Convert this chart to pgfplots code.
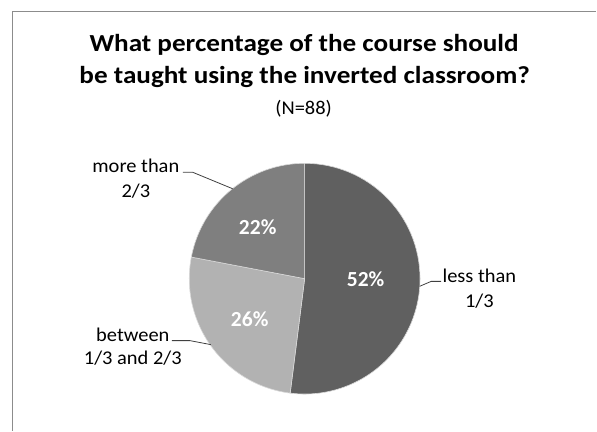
\documentclass[border=0pt]{standalone}
\usepackage{pgfplots}
\pgfplotsset{compat=1.18}
\usepackage{fontspec}
\setmainfont{Carlito}
\definecolor{sliceA}{HTML}{606060}
\definecolor{sliceB}{HTML}{B2B2B2}
\definecolor{sliceC}{HTML}{7F7F7F}
\definecolor{frame}{HTML}{8C8C8C}
\definecolor{leader}{HTML}{404040}
\begin{document}
\begin{tikzpicture}
% data: less than 1/3, between 1/3 and 2/3, more than 2/3 (percent)
\def\vA{52}\def\vB{26}\def\vC{22}
\pgfmathsetmacro\aA{90}
\pgfmathsetmacro\aB{\aA-3.6*\vA}
\pgfmathsetmacro\aC{\aB-3.6*\vB}
\pgfmathsetmacro\aD{\aC-3.6*\vC}
\def\R{115.5bp}
\begin{axis}[width=597bp,height=431bp,scale only axis,
  xmin=0,xmax=597,ymin=0,ymax=431,y dir=reverse,hide axis,clip=false]
\path (axis cs:0,0) rectangle (axis cs:597,431);
% frame
\draw[frame,line width=1.4bp] (axis cs:12.5,431) -- (axis cs:12.5,11.5) -- (axis cs:597,11.5);
% slices
\filldraw[fill=sliceA,draw=white!85!black,line width=0.6bp] (axis cs:305,279) -- +(\aA:\R) arc[start angle=\aA,end angle=\aB,radius=\R] -- cycle;
\filldraw[fill=sliceB,draw=white!85!black,line width=0.6bp] (axis cs:305,279) -- +(\aB:\R) arc[start angle=\aB,end angle=\aC,radius=\R] -- cycle;
\filldraw[fill=sliceC,draw=white!85!black,line width=0.6bp] (axis cs:305,279) -- +(\aC:\R) arc[start angle=\aC,end angle=\aD,radius=\R] -- cycle;
% percentage labels
\tikzset{pct/.style={text=white,font=\bfseries\fontsize{21.5bp}{21.5bp}\selectfont,anchor=base,inner sep=0pt},
  cat/.style={font=\fontsize{19.5bp}{19.5bp}\selectfont,anchor=base,xscale=1.05,inner sep=0pt}}
\node[pct] at (axis cs:366,286.7) {52\%};
\node[pct] at (axis cs:250,327) {26\%};
\node[pct] at (axis cs:258,235) {22\%};
% category labels
\node[cat] at (axis cs:480,283) {less than};
\node[cat] at (axis cs:480,308) {1/3};
\node[cat] at (axis cs:133,342) {between};
\node[cat] at (axis cs:133,365) {1/3 and 2/3};
\node[cat] at (axis cs:136,173) {more than};
\node[cat] at (axis cs:136,198) {2/3};
% leader lines
\draw[leader,line width=0.8bp] (axis cs:420,286.7) -- (axis cs:431.7,281.7) -- (axis cs:441.7,281.7);
\draw[leader,line width=0.8bp] (axis cs:172,341) -- (axis cs:190,341) -- (axis cs:211,345);
\draw[leader,line width=0.8bp] (axis cs:183,172.5) -- (axis cs:193,172.5) -- (axis cs:233,189);
% title
\node[font=\bfseries\fontsize{24.5bp}{24.5bp}\selectfont,anchor=base,xscale=1.11,inner sep=0pt] at (axis cs:304.5,51.7) {What percentage of the course should};
\node[font=\bfseries\fontsize{24.5bp}{24.5bp}\selectfont,anchor=base,xscale=1.11,inner sep=0pt] at (axis cs:305,83.3) {be taught using the inverted classroom?};
\node[cat] at (axis cs:304,115) {(N=88)};
\end{axis}
\end{tikzpicture}
\end{document}
